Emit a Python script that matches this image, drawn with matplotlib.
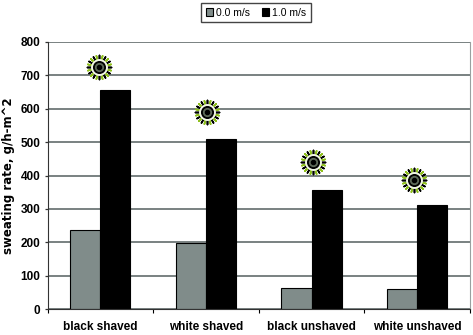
import matplotlib
matplotlib.use("Agg")
import numpy as np
import matplotlib.pyplot as plt

plt.rcParams['font.family'] = ['Liberation Sans', 'DejaVu Sans']

categories = ['black shaved', 'white shaved', 'black unshaved', 'white unshaved']
still_air = [237, 197, 62, 60]
moving_air = [655, 510, 358, 311]
sun_x = [-0.01, 1.01, 2.01, 2.97]
sun_y = [725, 590, 440, 386]
y_ticks = [0, 100, 200, 300, 400, 500, 600, 700, 800]

x = np.arange(len(categories))
width = 0.285

fig = plt.figure(figsize=(4.73, 3.35), dpi=100)
ax = fig.add_axes([47.5 / 473, 26 / 335, 422.5 / 473, 267 / 335])

ax.set_axisbelow(True)
ax.grid(axis='y', color='#555f5f', linewidth=1.1)
b1 = ax.bar(x - width / 2, still_air, width, color='#808c8a', edgecolor='black',
            linewidth=0.8, label='0.0 m/s')
b2 = ax.bar(x + width / 2, moving_air, width, color='black', edgecolor='black',
            linewidth=0.8, label='1.0 m/s')

# sun icons above the bars
ax.scatter(sun_x, sun_y, s=300, marker=(12, 2, 15), color='#8fc01e', linewidths=1.2, zorder=4)
ax.scatter(sun_x, sun_y, s=300, marker=(12, 2, 0), color='black', linewidths=1.2, zorder=5)
ax.scatter(sun_x, sun_y, s=125, color='#f2f7e6', zorder=6)
ax.scatter(sun_x, sun_y, s=70, color='black', zorder=7)
ax.scatter(sun_x, sun_y, s=32, color='#5f6b5a', zorder=8)
ax.scatter(sun_x, sun_y, s=9, color='black', zorder=9)

ax.set_xlim(-0.5, 3.5)
ax.set_ylim(0, 800)
ax.set_xticks(np.arange(-0.5, 4, 1))
ax.set_xticklabels([])
ax.set_yticks(y_ticks)
ax.tick_params(axis='y', length=2.2, width=0.9, pad=3, labelsize=8.5, color='#333333')
ax.tick_params(axis='x', length=3, width=0.8)
for label in ax.get_yticklabels():
    label.set_fontweight('bold')

for i, name in enumerate(categories):
    ax.annotate(name, xy=(i, 0), xycoords=('data', 'axes fraction'), xytext=(0, -13),
                textcoords='offset points', ha='center', va='center',
                fontsize=8.5, fontweight='bold')

ax.set_ylabel('sweating rate, g/h-m^2', fontsize=8.5, fontweight='bold',
              family='DejaVu Sans', labelpad=4)

ax.spines['top'].set_visible(False)
ax.spines['left'].set_color('#333333')
ax.spines['right'].set_color('#9aa0a0')
ax.spines['bottom'].set_color('#333333')

fig.legend(handles=[b1, b2], loc='upper center', bbox_to_anchor=(256 / 473, 1 - 3 / 335), ncol=2,
           fontsize=7.5, frameon=True, fancybox=False, edgecolor='#444444', framealpha=1,
           handlelength=0.7, handleheight=0.8, handletextpad=0.25, columnspacing=1.2,
           borderpad=0.45, borderaxespad=0)

fig.savefig('out.png', dpi=100)
